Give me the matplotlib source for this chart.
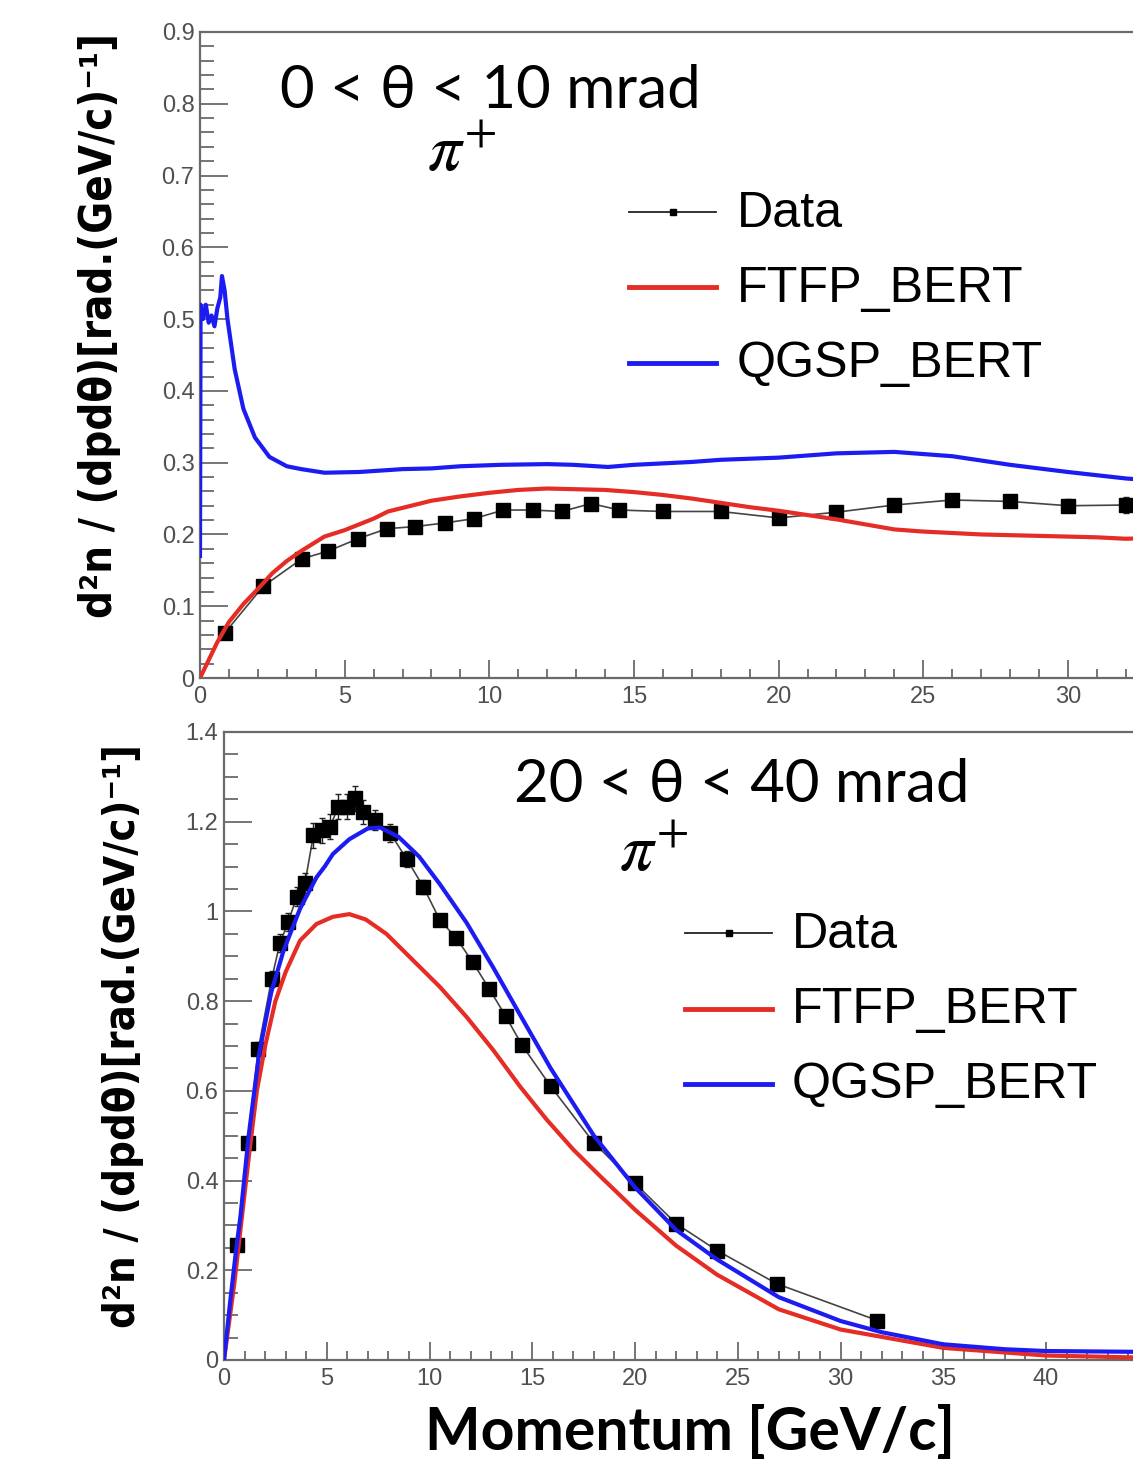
import matplotlib
matplotlib.use('Agg')
import matplotlib.pyplot as plt
from matplotlib.ticker import MultipleLocator, FixedLocator, FuncFormatter
from matplotlib.lines import Line2D
from matplotlib import font_manager

W, H = 1133, 1467
DPI = 100

# ---------------- top panel: 0 < theta < 10 mrad ----------------
top_data_p = [0.86, 2.19, 3.52, 4.44, 5.46, 6.46, 7.44, 8.46, 9.47, 10.49, 11.5, 12.5,
              13.52, 14.5, 16.0, 18.0, 20.0, 22.0, 24.0, 26.0, 28.0, 30.0, 32.0]
top_data_y = [0.063, 0.128, 0.166, 0.177, 0.194, 0.208, 0.211, 0.216, 0.222, 0.234, 0.234, 0.232,
              0.243, 0.234, 0.232, 0.232, 0.223, 0.231, 0.241, 0.248, 0.246, 0.240, 0.241]
top_data_err = [0.003, 0.003, 0.003, 0.003, 0.003, 0.003, 0.003, 0.003, 0.003, 0.003, 0.003, 0.003,
                0.004, 0.004, 0.004, 0.004, 0.005, 0.005, 0.006, 0.007, 0.008, 0.009, 0.011]

top_ftfp_p = [0.0, 0.3, 0.6, 1.0, 1.5, 2.0, 2.5, 3.0, 3.5, 4.3, 5.0, 6.0, 6.5, 7.0, 8.0, 9.0,
              10.0, 11.0, 12.0, 13.0, 14.0, 15.0, 16.0, 17.0, 18.0, 19.0, 20.0, 21.0, 22.0,
              23.0, 24.0, 25.0, 26.0, 27.0, 28.0, 29.0, 30.0, 31.0, 32.0, 33.0, 35.0, 40.0]
top_ftfp_y = [0.0, 0.025, 0.05, 0.078, 0.103, 0.124, 0.146, 0.163, 0.177, 0.197, 0.206, 0.222,
              0.232, 0.237, 0.247, 0.253, 0.258, 0.262, 0.264, 0.263, 0.262, 0.259, 0.255, 0.250,
              0.244, 0.238, 0.233, 0.227, 0.221, 0.214, 0.207, 0.204, 0.202, 0.200, 0.199, 0.198,
              0.197, 0.196, 0.194, 0.195, 0.193, 0.190]

top_qgsp_p = [0.0, 0.02, 0.1, 0.2, 0.3, 0.4, 0.5, 0.6, 0.7, 0.76, 0.85, 0.95, 1.2, 1.5, 1.9,
              2.4, 3.0, 3.5, 4.3, 5.5, 7.0, 8.0, 9.0, 10.4, 12.0, 12.9, 14.1, 15.0, 16.0, 17.0,
              18.0, 20.0, 22.0, 24.0, 26.0, 28.0, 30.0, 32.0, 33.0, 35.0, 40.0]
top_qgsp_y = [0.17, 0.52, 0.50, 0.52, 0.495, 0.505, 0.49, 0.515, 0.53, 0.56, 0.54, 0.50, 0.43,
              0.375, 0.335, 0.308, 0.295, 0.291, 0.286, 0.287, 0.291, 0.292, 0.295, 0.297, 0.298,
              0.297, 0.294, 0.297, 0.299, 0.301, 0.304, 0.307, 0.313, 0.315, 0.309, 0.297, 0.287,
              0.278, 0.275, 0.268, 0.255]

# ---------------- bottom panel: 20 < theta < 40 mrad ----------------
bot_data_p = [0.62, 1.15, 1.67, 2.32, 2.72, 3.13, 3.54, 3.94, 4.35, 4.75, 5.16, 5.56, 5.97,
              6.37, 6.75, 7.35, 8.1, 8.9, 9.7, 10.5, 11.3, 12.1, 12.9, 13.7, 14.5, 15.9, 18.0,
              20.0, 22.0, 24.0, 26.9, 31.8]
bot_data_y = [0.256, 0.484, 0.693, 0.850, 0.929, 0.977, 1.033, 1.063, 1.170, 1.181, 1.189, 1.233,
              1.233, 1.252, 1.222, 1.204, 1.174, 1.116, 1.055, 0.981, 0.941, 0.887, 0.828, 0.767,
              0.702, 0.610, 0.484, 0.394, 0.304, 0.244, 0.170, 0.088]
bot_data_err = [0.010, 0.012, 0.015, 0.018, 0.020, 0.020, 0.022, 0.022, 0.028, 0.028, 0.028,
                0.028, 0.028, 0.028, 0.026, 0.022, 0.020, 0.018, 0.016, 0.014, 0.013, 0.012,
                0.011, 0.010, 0.010, 0.009, 0.008, 0.007, 0.006, 0.006, 0.005, 0.004]

bot_ftfp_p = [0.0, 0.5, 1.0, 1.25, 1.6, 2.0, 2.5, 3.0, 3.7, 4.5, 5.3, 6.1, 6.9, 7.9, 9.2, 10.5,
              11.8, 13.1, 14.4, 15.7, 17.0, 18.3, 20.0, 22.0, 24.0, 27.0, 30.0, 35.0, 40.0,
              45.0, 50.0]
bot_ftfp_y = [0.0, 0.17, 0.37, 0.47, 0.60, 0.70, 0.80, 0.865, 0.935, 0.972, 0.988, 0.994, 0.982,
              0.950, 0.891, 0.832, 0.765, 0.691, 0.610, 0.536, 0.469, 0.410, 0.335, 0.255, 0.190,
              0.113, 0.068, 0.027, 0.010, 0.005, 0.004]

bot_qgsp_p = [0.0, 0.3, 0.6, 0.8, 1.2, 1.7, 2.3, 2.9, 3.7, 4.5, 4.9, 5.3, 6.1, 7.0, 7.6, 8.5,
              9.5, 10.5, 11.8, 13.1, 14.4, 15.9, 18.0, 20.0, 22.0, 24.0, 27.0, 30.0, 32.0,
              35.0, 38.0, 40.0, 45.0, 50.0]
bot_qgsp_y = [0.0, 0.13, 0.25, 0.32, 0.50, 0.68, 0.82, 0.913, 1.006, 1.076, 1.10, 1.128, 1.161,
              1.185, 1.187, 1.166, 1.122, 1.061, 0.975, 0.875, 0.770, 0.650, 0.500, 0.385, 0.290,
              0.224, 0.140, 0.087, 0.062, 0.035, 0.024, 0.020, 0.018, 0.017]

top_xticks = [0, 5, 10, 15, 20, 25, 30]
bot_xticks = [0, 5, 10, 15, 20, 25, 30, 35, 40]

top_title = "0 < θ < 10 mrad"
bot_title = "20 < θ < 40 mrad"
particle = r"$\pi^{+}$"
legend_labels = ["Data", "FTFP_BERT", "QGSP_BERT"]
ylabel_text = "d²n / (dpdθ)[rad.(GeV/c)⁻¹]"
xlabel_text = "Momentum [GeV/c]"

RED = '#e52d26'
BLUE = '#1c1cf2'
GRAY = '#6a6a6a'
TICKC = '#505050'

names = {f.name for f in font_manager.fontManager.ttflist}
if 'Liberation Sans Narrow' in names:
    YLFAM = ['Liberation Sans Narrow', 'DejaVu Sans']
    YLSTRETCH = 'normal'
else:
    YLFAM = ['DejaVu Sans']
    YLSTRETCH = 'condensed'
SANS = ['Liberation Sans', 'DejaVu Sans']

fig = plt.figure(figsize=(W / DPI, H / DPI), dpi=DPI)
fig.patch.set_facecolor('white')


def fx(px):
    return px / W


def fy(py):
    return 1 - py / H


def make_axes(left, top, bottom, ppu, xmax, ymax, xticks, ymajor, yminor):
    width = xmax * ppu
    ax = fig.add_axes([fx(left), fy(bottom), width / W, (bottom - top) / H])
    ax.set_xlim(0, xmax)
    ax.set_ylim(0, ymax)
    ax.xaxis.set_major_locator(FixedLocator(xticks))
    ax.xaxis.set_minor_locator(MultipleLocator(1))
    ax.yaxis.set_major_locator(MultipleLocator(ymajor))
    ax.yaxis.set_minor_locator(MultipleLocator(yminor))
    fmt = FuncFormatter(lambda v, pos: ('%g' % round(v, 3)))
    ax.xaxis.set_major_formatter(fmt)
    ax.yaxis.set_major_formatter(fmt)
    for s in ['left', 'bottom', 'top', 'right']:
        ax.spines[s].set_color(GRAY)
        ax.spines[s].set_linewidth(1.6)
    ax.tick_params(axis='both', which='both', direction='in', color=GRAY, width=1.3,
                   labelcolor=TICKC, labelsize=17, top=False, right=False)
    ax.tick_params(axis='x', which='major', length=13, pad=6)
    ax.tick_params(axis='x', which='minor', length=6.5)
    ax.tick_params(axis='y', which='major', length=20, pad=4)
    ax.tick_params(axis='y', which='minor', length=10)
    for lab in ax.get_xticklabels() + ax.get_yticklabels():
        lab.set_family(SANS)
    return ax


ax1 = make_axes(200, 32, 678, 28.93, 40, 0.9, top_xticks, 0.1, 0.02)
ax2 = make_axes(224, 732, 1360, 20.55, 50, 1.4, bot_xticks, 0.2, 0.05)

for ax, dp, dy, de, fp, fyv, qp, qy in [
        (ax1, top_data_p, top_data_y, top_data_err, top_ftfp_p, top_ftfp_y, top_qgsp_p, top_qgsp_y),
        (ax2, bot_data_p, bot_data_y, bot_data_err, bot_ftfp_p, bot_ftfp_y, bot_qgsp_p, bot_qgsp_y)]:
    ax.plot(dp, dy, color='#444444', lw=1.2, zorder=2)
    ax.errorbar(dp, dy, yerr=de, fmt='s', color='black', ms=9.5, mec='black',
                ecolor='#222222', elinewidth=1.0, capsize=2, zorder=3)
    ax.plot(fp, fyv, color=RED, lw=3.0, zorder=4, solid_joinstyle='round')
    ax.plot(qp, qy, color=BLUE, lw=3.0, zorder=5, solid_joinstyle='round')

renderer = fig.canvas.get_renderer()


def fit(t, target, use_height=False):
    bb = t.get_window_extent(renderer)
    size = bb.height if use_height else bb.width
    t.set_fontsize(t.get_fontsize() * target / size)


# titles
t = fig.text(fx(280), fy(108), top_title, family=['Lato', 'DejaVu Serif'], fontsize=40,
             ha='left', va='baseline', color='black')
fit(t, 420)
t = fig.text(fx(514), fy(802), bot_title, family=['Lato', 'DejaVu Serif'], fontsize=40,
             ha='left', va='baseline', color='black')
fit(t, 455)
for cx, by in [(462, 171), (654, 871)]:
    t = fig.text(fx(cx), fy(by), particle, fontsize=40, math_fontfamily='stix',
                 ha='center', va='baseline', color='black')
    fit(t, 70)

# legends
for hx0, hx1, tx, line_ys, base_ys in [
        (629, 716, 737, [211.7, 287.3, 362.7], [227, 302, 377]),
        (685, 772, 792, [933, 1009, 1084], [948, 1023, 1098])]:
    fig.add_artist(Line2D([fx(hx0), fx(hx1)], [fy(line_ys[0])] * 2, color='#222222', lw=1.3,
                          transform=fig.transFigure))
    fig.add_artist(Line2D([fx((hx0 + hx1) / 2)], [fy(line_ys[0])], marker='s', ms=5,
                          color='black', transform=fig.transFigure))
    fig.add_artist(Line2D([fx(hx0), fx(hx1)], [fy(line_ys[1])] * 2, color=RED, lw=3.5,
                          transform=fig.transFigure))
    fig.add_artist(Line2D([fx(hx0), fx(hx1)], [fy(line_ys[2])] * 2, color=BLUE, lw=3.5,
                          transform=fig.transFigure))
    texts = []
    for lab, by in zip(legend_labels, base_ys):
        texts.append(fig.text(fx(tx), fy(by), lab, family=SANS, fontsize=36,
                              ha='left', va='baseline', color='black'))
    bb = texts[2].get_window_extent(renderer)
    sc = 306 / bb.width
    for tt in texts:
        tt.set_fontsize(36 * sc)

# y labels
for cx, cy, L in [(100, 325, 586), (123, 1036, 583)]:
    t = fig.text(fx(cx), fy(cy), ylabel_text, family=YLFAM, fontstretch=YLSTRETCH,
                 fontweight='bold', fontsize=36, rotation=90, ha='center', va='center',
                 color='black')
    fit(t, L, use_height=True)

# x label
t = fig.text(fx(690), fy(1450), xlabel_text, family=['Lato', 'DejaVu Sans'], fontweight='bold',
             fontsize=40, ha='center', va='baseline', color='black')
fit(t, 530)

fig.savefig('out.png', dpi=DPI, facecolor='white')
